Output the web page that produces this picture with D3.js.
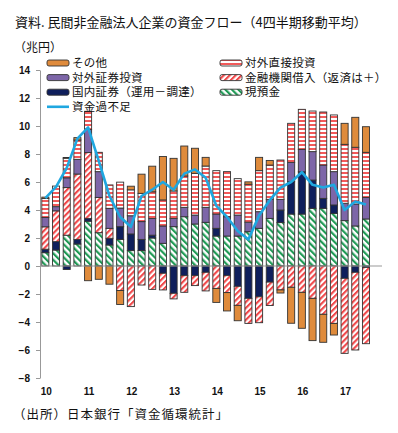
<!DOCTYPE html>
<html>
<head>
<meta charset="utf-8">
<script src="https://cdn.jsdelivr.net/npm/d3@7"></script>
<style>
  body { margin: 0; background: #fff; }
  svg { display: block; font-family: "Noto Sans CJK JP", sans-serif; }
</style>
</head>
<body>
<div id="chart"></div>
<script>
// 2010Q1 - 2017Q3 (last slot 2017Q4 empty)
var quarters = [];
for (var yy = 10; yy <= 17; yy++) {
  for (var q = 1; q <= 4; q++) quarters.push(yy + "Q" + q);
}
var yearLabels = ["10", "11", "12", "13", "14", "15", "16", "17"];
var yTicks = [-8, -6, -4, -2, 0, 2, 4, 6, 8, 10, 12, 14];

// 兆円
var genyokin = [0.95, 1.14, 2.2, 1.57, 3.2, 2.38, 1.5, 1.9, 1.1, 1.1, 2.0, 1.62, 2.81, 3.52, 3.0, 3.12,
  2.14, 2.14, 2.14, 2.45, 2.69, 3.4, 3.1, 3.71, 3.71, 4.12, 4.12, 3.76, 3.24, 2.86, 3.36];
var kokunai = [0.25, 0.6, -0.25, 0.33, 0.2, 0, 0.48, 0.91, 1.19, 0.8, 0.2, -0.52, -1.95, -0.69, -0.69, -0.45,
  0.55, -0.69, -1.45, -2.31, -2.2, -1.15, 0.9, 2.31, 3.02, 2.02, 0.71, 0.6, -0.88, -0.45, -0.1];
var kinyu = [1.6, 2.2, 3.4, 4.67, 4.7, 2.52, 0.71, -1.75, -2.9, -1.36, -1.67, -1.19, -0.4, -1.19, -0.71, -1.33,
  -1.6, -1.21, -1.36, -1.79, -1.85, -1.67, -1.71, -1.52, -1.88, -2.31, -3.45, -4.1, -5.36, -5.55, -5.45];
var shoken = [0.67, 0.3, 0.7, 1.05, 1.65, 1.84, 1.43, 1.33, 1.3, 1.27, 1.19, 1.24, 0.59, 0.67, 0.64, 1.07,
  1.02, 1.38, 1.5, 0.68, 1.19, 1.36, 0.76, 1.38, 1.6, 2.03, 2.38, 2.38, 1.24, 1.57, 1.54];
var chokusetsu = [1.35, 1.47, 1.4, 1.38, 1.3, 1.38, 1.67, 1.85, 1.85, 2.02, 1.91, 1.86, 1.96, 2.24, 2.98, 2.95,
  3.1, 3.22, 2.6, 2.71, 2.93, 2.45, 2.81, 2.79, 2.86, 2.9, 3.79, 4.05, 4.21, 4.05, 3.22];
var sonota = [0.1, 0, 0.05, 0.17, -1.05, -0.95, -1.3, -1.0, 0.26, 1.37, 1.83, 3.1, 2.33, 2.14, 1.79, 0.62,
  -1.0, -1.31, -1.1, 0.17, 0.95, 0.33, -0.22, -2.57, -2.57, -3.02, -2.0, -0.83, 1.5, 2.14, 1.83];
var kabusoku = [4.85, 5.65, 7.0, 9.1, 9.9, 7.5, 5.0, 3.5, 2.8, 5.0, 5.45, 6.0, 5.45, 6.6, 6.9, 6.3,
  4.3, 3.5, 2.5, 1.9, 3.6, 4.7, 5.6, 6.0, 6.7, 5.8, 5.6, 5.8, 4.0, 4.6, 4.4];

var seriesKeys = ["genyokin", "kokunai", "kinyu", "shoken", "chokusetsu", "sonota"];
var seriesArr = [genyokin, kokunai, kinyu, shoken, chokusetsu, sonota];
var fills = {
  genyokin: "url(#pGreen)", kokunai: "#0f1f5c", kinyu: "url(#pRedDiag)",
  shoken: "#7d66a8", chokusetsu: "url(#pRedHor)", sonota: "#df8b3c"
};

var W = 398, H = 433;
var svg = d3.select("#chart").append("svg").attr("width", W).attr("height", H);

var defs = svg.append("defs");
function stripe(id, color, rot, size, thick) {
  var p = defs.append("pattern").attr("id", id)
    .attr("patternUnits", "userSpaceOnUse")
    .attr("width", size).attr("height", size);
  if (rot) p.attr("patternTransform", "rotate(" + rot + ")");
  p.append("rect").attr("width", size).attr("height", size).attr("fill", "#fff");
  if (rot) p.append("rect").attr("width", thick).attr("height", size).attr("fill", color);
  else p.append("rect").attr("width", size).attr("height", thick).attr("fill", color);
}
stripe("pGreen", "#1f9a55", -45, 4.6, 2.2);
stripe("pRedDiag", "#f0484a", 45, 4.2, 2.1);
stripe("pRedHor", "#f25a5a", 0, 4, 2);

var x = d3.scaleBand().domain(quarters).range([40, 382]).paddingInner(0.34).paddingOuter(0.17);
var y = d3.scaleLinear().domain([-8, 14]).range([378, 70]);

var table = quarters.slice(0, genyokin.length).map(function(qq, i) {
  var row = { q: qq };
  seriesKeys.forEach(function(k, j) { row[k] = seriesArr[j][i]; });
  return row;
});

var stack = d3.stack().keys(seriesKeys).offset(d3.stackOffsetDiverging);
var layers = stack(table);

// title
svg.append("text").attr("x", 15).attr("y", 27)
  .attr("font-size", 13).attr("fill", "#111")
  .text("資料. 民間非金融法人企業の資金フロー（4四半期移動平均）");
svg.append("text").attr("x", 14).attr("y", 52)
  .attr("font-size", 12).attr("fill", "#111")
  .text("（兆円）");

// y axis
var yAxis = svg.append("g").attr("transform", "translate(40,0)")
  .call(d3.axisLeft(y).tickValues(yTicks).tickSize(4).tickSizeOuter(0).tickPadding(6));
yAxis.select(".domain").attr("stroke", "#999");
yAxis.selectAll(".tick line").attr("stroke", "#999");
yAxis.selectAll(".tick text").attr("font-family", "Liberation Sans, Arial, sans-serif")
  .attr("font-weight", "bold").attr("font-size", 10).attr("fill", "#111");

// bars
svg.append("g").selectAll("g")
  .data(layers)
.enter().append("g")
  .attr("fill", function(d) { return fills[d.key]; })
  .selectAll("rect")
  .data(function(d) { return d.filter(function(v) { return v[1] !== v[0]; }); })
.enter().append("rect")
  .attr("x", function(d) { return x(d.data.q); })
  .attr("width", x.bandwidth())
  .attr("y", function(d) { return y(Math.max(d[0], d[1])); })
  .attr("height", function(d) { return Math.abs(y(d[0]) - y(d[1])); })
  .attr("stroke", "#333")
  .attr("stroke-width", 0.9);

// zero line
svg.append("line")
  .attr("x1", 40).attr("x2", 382)
  .attr("y1", y(0)).attr("y2", y(0))
  .attr("stroke", "#999").attr("stroke-width", 1);

// x labels
svg.append("g").selectAll("text")
  .data(yearLabels)
.enter().append("text")
  .attr("x", function(d) { return x(d + "Q1") + x.bandwidth() / 2 + 1; })
  .attr("y", 395)
  .attr("text-anchor", "middle")
  .attr("font-family", "Liberation Sans, Arial, sans-serif")
  .attr("font-weight", "bold").attr("font-size", 10).attr("fill", "#111")
  .text(function(d) { return d; });

// line
var line = d3.line()
  .x(function(d, i) { return x(quarters[i]) + x.bandwidth() / 2; })
  .y(function(d) { return y(d); });
svg.append("path").datum(kabusoku)
  .attr("d", line)
  .attr("fill", "none")
  .attr("stroke", "#1fa7e0")
  .attr("stroke-width", 2.6)
  .attr("stroke-linejoin", "round");

// legend
var legendItems = [
  { name: "その他", key: "sonota", col: 0, row: 0 },
  { name: "対外直接投資", key: "chokusetsu", col: 1, row: 0 },
  { name: "対外証券投資", key: "shoken", col: 0, row: 1 },
  { name: "金融機関借入（返済は＋）", key: "kinyu", col: 1, row: 1 },
  { name: "国内証券（運用－調達）", key: "kokunai", col: 0, row: 2 },
  { name: "現預金", key: "genyokin", col: 1, row: 2 },
  { name: "資金過不足", key: "line", col: 0, row: 3 }
];
var colX = [47, 220];
var lg = svg.append("g").selectAll("g")
  .data(legendItems)
.enter().append("g")
  .attr("transform", function(d) { return "translate(" + colX[d.col] + "," + (63 + d.row * 14.6) + ")"; });

lg.filter(function(d) { return d.key !== "line"; })
  .append("rect")
  .attr("x", 0).attr("y", -3).attr("width", 22).attr("height", 6)
  .attr("rx", 2)
  .attr("fill", function(d) { return fills[d.key]; })
  .attr("stroke", "#333").attr("stroke-width", 0.9);
lg.filter(function(d) { return d.key === "line"; })
  .append("line")
  .attr("x1", 0).attr("x2", 22).attr("y1", 0).attr("y2", 0)
  .attr("stroke", "#1fa7e0").attr("stroke-width", 2.6);
lg.append("text")
  .attr("x", 25).attr("y", 4)
  .attr("font-size", 11.5).attr("fill", "#111")
  .attr("letter-spacing", 0.3)
  .text(function(d) { return d.name; });

// source
svg.append("text").attr("x", 13).attr("y", 419)
  .attr("font-size", 12.5).attr("fill", "#111")
  .attr("letter-spacing", 1)
  .text("（出所）日本銀行「資金循環統計」");
</script>
</body>
</html>
